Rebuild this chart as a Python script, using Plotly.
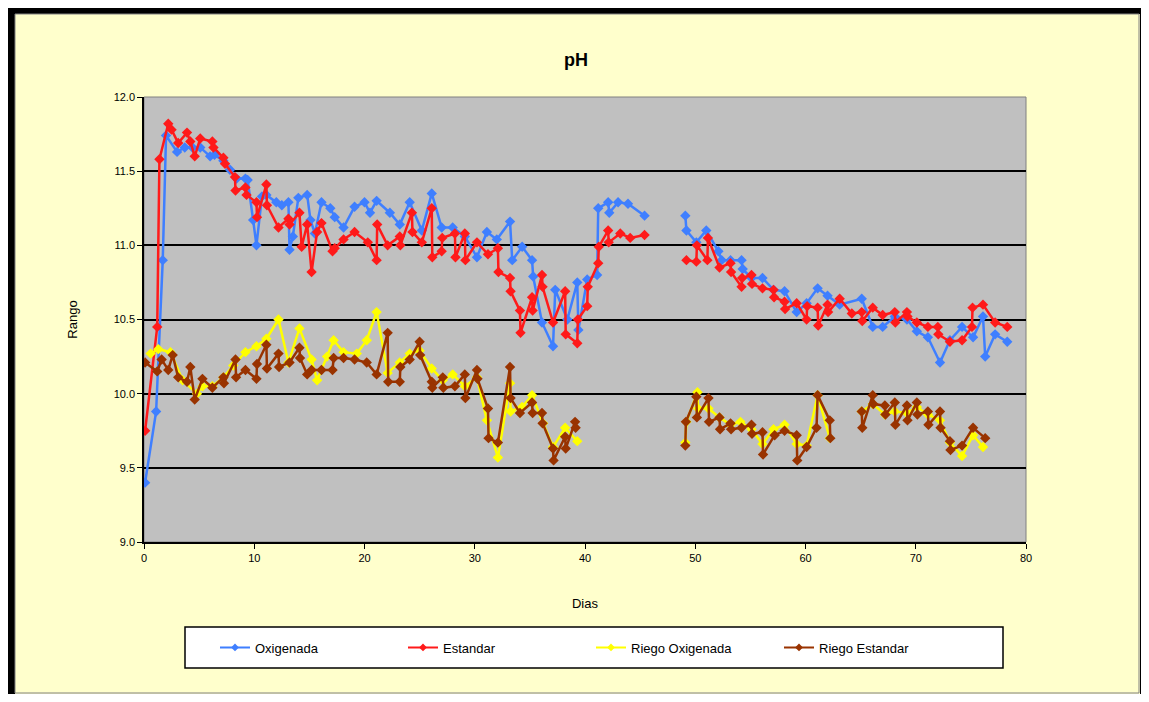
import plotly.graph_objects as go

# ---------------- data ----------------
oxi_x = [0.1, 1.1, 1.7, 2.0, 3.0, 3.7, 4.4, 5.1, 6.0, 6.4, 7.2, 7.8, 8.4, 9.2, 9.4, 9.9, 10.2, 10.7, 11.1,
         12.0, 12.5, 13.1, 13.2, 13.5, 14.0, 14.8, 15.1, 15.5, 16.1, 16.9, 17.3, 18.1, 19.1, 20.0, 20.5, 21.1,
         22.3, 23.2, 24.1, 25.2, 26.1, 27.0, 28.0, 29.1, 30.2, 31.1, 32.0, 33.2, 33.4, 34.3, 35.2, 35.3, 36.1,
         37.1, 37.3, 38.4, 39.3, 39.4, 40.2, 41.1, 41.2, 42.1, 42.2, 43.0, 43.9, 45.4, 47.0,
         49.1, 49.2, 50.1, 51.0, 52.1, 52.4, 53.2, 54.2, 54.3, 55.1, 56.1, 57.1, 58.1, 59.2, 60.1, 61.1, 62.0,
         63.1, 65.1, 66.1, 67.0, 68.1, 69.2, 70.1, 71.1, 72.2, 73.1, 74.2, 75.2, 76.1, 76.3, 77.2, 78.3]
oxi_y = [9.40, 9.88, 10.90, 11.74, 11.63, 11.66, 11.66, 11.66, 11.60, 11.61, 11.57, 11.51, 11.45, 11.45, 11.44,
         11.17, 11.00, 11.33, 11.34, 11.29, 11.27, 11.29, 10.97, 11.06, 11.32, 11.34, 11.17, 11.08, 11.29,
         11.25, 11.19, 11.12, 11.26, 11.29, 11.22, 11.30, 11.22, 11.14, 11.29, 11.10, 11.35, 11.12, 11.12,
         11.06, 10.92, 11.09, 11.04, 11.16, 10.90, 10.99, 10.90, 10.79, 10.48, 10.32, 10.70, 10.50, 10.75,
         10.43, 10.77, 10.80, 11.25, 11.29, 11.22, 11.29, 11.28, 11.20, None,
         11.20, 11.10, 11.02, 11.10, 10.96, 10.90, 10.90, 10.90, 10.84, 10.78, 10.78, 10.70, 10.69, 10.55,
         10.61, 10.71, 10.66, 10.60, 10.64, 10.45, 10.45, 10.52, 10.50, 10.42, 10.38, 10.21, 10.36, 10.45,
         10.38, 10.52, 10.25, 10.40, 10.35]

est_x = [0.1, 1.2, 1.4, 2.2, 2.5, 3.1, 3.9, 4.2, 4.6, 5.1, 6.2, 6.3, 7.2, 7.35, 8.25, 8.3, 9.2, 9.3, 10.2,
         10.25, 11.1, 11.15, 12.2, 13.1, 13.2, 14.1, 14.3, 14.8, 15.2, 15.7, 16.1, 17.1, 17.3, 18.1, 19.1,
         20.3, 21.1, 21.15, 22.1, 23.2, 23.25, 24.3, 24.35, 25.2, 26.1, 26.15, 27.0, 27.05, 28.2, 28.25,
         29.1, 29.15, 30.2, 31.2, 32.1, 32.15, 33.2, 33.25, 34.1, 34.15, 35.2, 35.25, 36.1, 36.15, 37.1,
         38.2, 38.25, 39.3, 39.35, 40.2, 40.25, 41.2, 41.25, 42.1, 42.15, 43.2, 44.1, 45.4, 47.0,
         49.2, 50.1, 50.15, 51.1, 51.15, 52.2, 53.2, 53.25, 54.2, 54.25, 55.1, 55.15, 56.1, 57.1, 57.15,
         58.1, 58.15, 59.2, 60.1, 60.15, 61.1, 61.15, 62.0, 62.05, 63.1, 64.2, 65.1, 65.15, 66.1, 67.0,
         68.1, 68.15, 69.2, 69.25, 70.1, 71.1, 72.0, 72.05, 73.1, 74.2, 75.1, 75.15, 76.1, 77.2, 78.3]
est_y = [9.75, 10.45, 11.58, 11.82, 11.78, 11.69, 11.76, 11.70, 11.60, 11.72, 11.70, 11.66, 11.59, 11.55,
         11.46, 11.37, 11.39, 11.34, 11.29, 11.19, 11.41, 11.27, 11.12, 11.18, 11.14, 11.22, 10.99, 11.14,
         10.82, 11.09, 11.15, 10.96, 10.98, 11.04, 11.09, 11.02, 10.90, 11.14, 11.00, 11.06, 11.00, 11.22,
         11.09, 11.02, 11.25, 10.92, 10.96, 11.05, 11.08, 10.92, 11.08, 10.90, 11.02, 10.94, 10.98, 10.82,
         10.78, 10.69, 10.56, 10.41, 10.65, 10.56, 10.80, 10.72, 10.48, 10.69, 10.40, 10.34, 10.50, 10.59,
         10.72, 10.88, 10.99, 11.10, 11.02, 11.08, 11.05, 11.07, None,
         10.90, 10.89, 11.00, 10.90, 11.05, 10.85, 10.88, 10.82, 10.72, 10.78, 10.80, 10.74, 10.71, 10.70,
         10.65, 10.62, 10.57, 10.61, 10.50, 10.59, 10.58, 10.46, 10.60, 10.55, 10.64, 10.54, 10.55, 10.49,
         10.58, 10.53, 10.55, 10.48, 10.55, 10.52, 10.48, 10.45, 10.45, 10.40, 10.35, 10.36, 10.45, 10.58,
         10.60, 10.48, 10.45]

rox_x = [0.6, 1.3, 2.4, 3.5, 4.8, 5.3, 6.2, 7.2, 8.1, 9.2, 10.2, 11.1, 12.2, 13.1, 14.1, 15.2, 15.7, 16.6,
         17.2, 18.1, 19.3, 20.2, 21.1, 22.1, 23.2, 24.1, 25.0, 26.1, 27.1, 28.0, 29.1, 30.2, 31.1, 32.1,
         33.2, 33.25, 34.3, 35.2, 36.2, 37.1, 38.2, 39.3, 44.0,
         49.1, 49.2, 50.2, 50.25, 51.2, 52.2, 53.2, 54.1, 55.1, 56.1, 57.1, 58.1, 59.2, 60.1, 61.1, 62.2, 63.5,
         65.1, 66.1, 67.2, 68.1, 69.2, 70.1, 71.1, 72.2, 73.1, 74.2, 75.2, 76.1]
rox_y = [10.27, 10.30, 10.28, 10.09, 10.00, 10.05, 10.05, 10.11, 10.19, 10.28, 10.32, 10.37, 10.50, 10.21,
         10.44, 10.23, 10.09, 10.25, 10.36, 10.28, 10.27, 10.36, 10.55, 10.14, 10.21, 10.27, 10.29, 10.17,
         10.09, 10.13, 10.05, 10.11, 9.82, 9.57, 10.07, 9.88, 9.91, 9.99, 9.80, 9.64, 9.77, 9.68, None,
         9.67, 9.81, 10.01, 9.90, 9.90, 9.84, 9.79, 9.81, 9.76, 9.66, 9.76, 9.79, 9.66, 9.65, 9.99, 9.70, None,
         9.88, 9.93, 9.86, 9.88, 9.87, 9.91, 9.86, 9.82, 9.67, 9.58, 9.72, 9.64]

res_x = [0.1, 1.2, 1.6, 2.2, 2.6, 3.1, 3.9, 4.2, 4.6, 5.3, 6.2, 7.2, 7.25, 8.3, 8.35, 9.2, 10.2, 10.25,
         11.1, 11.15, 12.2, 12.25, 13.2, 14.1, 14.15, 14.8, 15.2, 16.1, 17.1, 17.2, 18.1, 19.1, 20.2, 21.1,
         22.1, 22.15, 23.2, 23.25, 24.1, 25.0, 25.05, 26.1, 26.15, 27.1, 27.15, 28.2, 29.1, 29.15, 30.2,
         30.25, 31.2, 31.25, 32.1, 33.2, 33.25, 34.1, 35.2, 35.25, 36.1, 36.15, 37.1, 37.15, 38.2, 38.25,
         39.1, 39.15, 44.0,
         49.1, 49.15, 50.1, 50.15, 51.2, 51.25, 52.2, 52.25, 53.2, 53.25, 54.2, 55.1, 55.15, 56.1, 56.15,
         57.2, 58.1, 59.2, 59.25, 60.1, 61.0, 61.1, 62.2, 62.25, 63.5,
         65.1, 65.15, 66.1, 66.15, 67.2, 67.25, 68.1, 68.15, 69.2, 69.25, 70.1, 70.15, 71.1, 71.15, 72.2,
         72.25, 73.1, 73.15, 74.2, 75.2, 76.3]
res_y = [10.21, 10.15, 10.23, 10.16, 10.26, 10.11, 10.08, 10.18, 9.96, 10.10, 10.04, 10.11, 10.07, 10.23,
         10.11, 10.16, 10.10, 10.20, 10.33, 10.17, 10.27, 10.18, 10.21, 10.31, 10.24, 10.13, 10.16, 10.16,
         10.16, 10.24, 10.24, 10.23, 10.21, 10.13, 10.41, 10.08, 10.08, 10.18, 10.23, 10.35, 10.26, 10.08,
         10.04, 10.11, 10.04, 10.05, 10.13, 9.97, 10.16, 10.10, 9.90, 9.70, 9.67, 10.18, 9.97, 9.87, 9.94,
         9.87, 9.87, 9.80, 9.63, 9.55, 9.71, 9.63, 9.81, 9.77, None,
         9.65, 9.81, 9.98, 9.84, 9.97, 9.81, 9.84, 9.76, 9.80, 9.76, 9.77, 9.79, 9.73, 9.74, 9.59, 9.72,
         9.75, 9.72, 9.55, 9.64, 9.77, 9.99, 9.82, 9.70, None,
         9.88, 9.77, 9.99, 9.93, 9.92, 9.86, 9.94, 9.79, 9.92, 9.82, 9.94, 9.86, 9.88, 9.79, 9.88, 9.77,
         9.68, 9.62, 9.65, 9.77, 9.70]

series_names = ["Oxigenada", "Estandar", "Riego Oxigenada", "Riego Estandar"]
series_colors = ["#3F7FFF", "#FF1A1A", "#FFFF00", "#993300"]
y_ticks = [9.0, 9.5, 10.0, 10.5, 11.0, 11.5, 12.0]
x_ticks = [0, 10, 20, 30, 40, 50, 60, 70, 80]

# ---------------- layout helpers (page pixel coords; page has 8px body margin) ----------------
OFF = 8
W, H = 1141, 686
L, R, T, B = 144, 1026, 97, 542   # plot area in page pixels


def px(x):
    return (x - L) / (R - L)


def py(y):
    return (B - y) / (B - T)


fig = go.Figure()
data = [(oxi_x, oxi_y), (est_x, est_y), (rox_x, rox_y), (res_x, res_y)]
for (xs, ys), name, col in zip(data, series_names, series_colors):
    fig.add_trace(go.Scatter(
        x=xs, y=ys, name=name, mode="lines+markers", connectgaps=False, showlegend=False,
        line=dict(color=col, width=2.5),
        marker=dict(symbol="diamond", size=8, color=col),
    ))
# legend entries (smaller symbols, as in the original)
for name, col in zip(series_names, series_colors):
    fig.add_trace(go.Scatter(
        x=[None], y=[None], name=name, mode="lines+markers", showlegend=True,
        line=dict(color=col, width=2), marker=dict(symbol="diamond", size=6, color=col),
    ))

shapes = []
shapes.append(dict(type="rect", xref="paper", yref="paper", x0=0, x1=1, y0=0, y1=1,
                   line=dict(color="#808080", width=1), fillcolor="rgba(0,0,0,0)", layer="below"))
# outer frame
shapes.append(dict(type="rect", xref="paper", yref="paper", x0=px(OFF), x1=px(OFF + W), y0=py(OFF), y1=py(14),
                   line=dict(width=0), fillcolor="black", layer="above"))
shapes.append(dict(type="rect", xref="paper", yref="paper", x0=px(OFF), x1=px(15), y0=py(OFF), y1=py(OFF + H),
                   line=dict(width=0), fillcolor="black", layer="above"))
shapes.append(dict(type="rect", xref="paper", yref="paper", x0=px(1140), x1=px(OFF + W), y0=py(OFF), y1=py(OFF + H),
                   line=dict(width=0), fillcolor="black", layer="above"))
shapes.append(dict(type="rect", xref="paper", yref="paper", x0=px(15), x1=px(1139), y0=py(14), y1=py(OFF + H - 1),
                   line=dict(color="#808080", width=1), fillcolor="rgba(0,0,0,0)", layer="above"))
# legend box
shapes.append(dict(type="rect", xref="paper", yref="paper", x0=px(185), x1=px(1003), y0=py(627), y1=py(668),
                   line=dict(color="black", width=1.5), fillcolor="white", layer="below"))

font_family = "Arial, Liberation Sans, sans-serif"

fig.update_layout(
    width=W, height=H,
    margin=dict(l=L - OFF, r=OFF + W - R, t=T - OFF, b=OFF + H - B, autoexpand=False),
    paper_bgcolor="#FFFFCC",
    plot_bgcolor="#C0C0C0",
    font=dict(family=font_family, size=12, color="black"),
    title=dict(text="<b>pH</b>", x=px(576), xref="paper", xanchor="center",
               y=1 - (60 - OFF) / H, yref="container", yanchor="middle",
               font=dict(size=18, color="black")),
    showlegend=True,
    legend=dict(orientation="h", x=px(215), xanchor="left", y=py(647.5), yanchor="middle",
                bgcolor="rgba(0,0,0,0)", borderwidth=0, font=dict(size=13),
                entrywidth=143, entrywidthmode="pixels"),
    shapes=shapes,
)

fig.update_xaxes(range=[0, 80], tickvals=x_ticks, ticktext=[str(v) for v in x_ticks],
                 showgrid=False, zeroline=False, showline=True, linecolor="black", linewidth=1.5,
                 ticks="outside", ticklen=5, tickcolor="black", tickfont=dict(size=11),
                 title=dict(text="Dias", font=dict(size=13), standoff=36))
fig.update_yaxes(range=[9, 12], tickvals=y_ticks, ticktext=[f"{v:.1f}" for v in y_ticks],
                 showgrid=True, gridcolor="black", gridwidth=1.5, zeroline=False,
                 showline=True, linecolor="black", linewidth=1.5,
                 ticks="outside", ticklen=5, tickcolor="black", tickfont=dict(size=11),
                 title=dict(text="Rango", font=dict(size=13), standoff=33))

fig.write_html("out.html")
